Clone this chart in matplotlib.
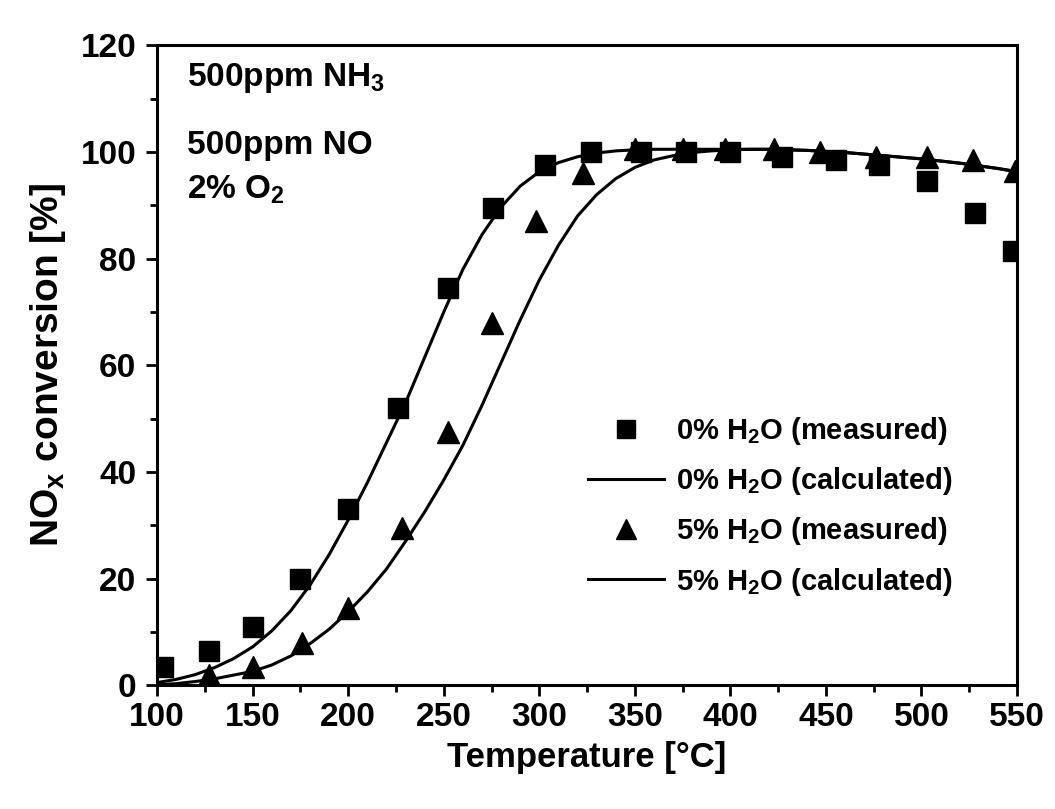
import matplotlib
matplotlib.use("Agg")
import matplotlib.pyplot as plt
from matplotlib.ticker import MultipleLocator
from matplotlib.lines import Line2D

plt.rcParams['font.family'] = ['Liberation Sans', 'DejaVu Sans']
plt.rcParams['font.weight'] = 'bold'
plt.rcParams['mathtext.fontset'] = 'custom'
plt.rcParams['mathtext.rm'] = 'Liberation Sans:bold'
plt.rcParams['mathtext.it'] = 'Liberation Sans:bold'
plt.rcParams['mathtext.bf'] = 'Liberation Sans:bold'
plt.rcParams['mathtext.sf'] = 'Liberation Sans:bold'
plt.rcParams['mathtext.default'] = 'rm'

# measured data
t_dry = [103, 127, 150, 175, 200, 226, 252, 276, 303, 327, 353, 377, 400, 427, 455, 478, 503, 528, 548]
x_dry = [3.5, 6.5, 11, 20, 33, 52, 74.5, 89.5, 97.5, 100, 100, 100, 100, 99, 98.5, 97.5, 94.5, 88.5, 81.5]

t_wet = [127, 150, 176, 200, 228, 252, 275, 298, 323, 350, 375, 397, 423, 447, 476, 503, 527, 549]
x_wet = [2, 3.5, 8, 14.5, 29.5, 47.5, 68, 87, 96, 100.5, 100.5, 100.5, 100.5, 100, 99, 99, 98.5, 96.5]

# calculated curves
t_calc = [100, 110, 120, 130, 140, 150, 160, 170, 180, 190, 200, 210, 220, 230, 240,
          250, 260, 270, 280, 290, 300, 310, 320, 330, 340, 350, 360, 370, 380, 390,
          400, 410, 420, 430, 440, 450, 460, 470, 480, 490, 500, 510, 520, 530, 540, 550]
calc_dry = [0.5, 1.1, 2.0, 3.3, 5.0, 7.2, 10.2, 14.0, 18.8, 24.5, 31.0, 38.0, 45.5, 53.0, 61.5,
            70.0, 78.0, 84.5, 89.7, 93.6, 96.3, 98.0, 99.1, 99.8, 100.2, 100.4, 100.5, 100.5, 100.5, 100.5,
            100.5, 100.5, 100.5, 100.4, 100.3, 100.1, 99.9, 99.6, 99.3, 99.0, 98.7, 98.3, 97.9, 97.4, 96.9, 96.3]
calc_wet = [0.1, 0.3, 0.7, 1.2, 1.9, 2.6, 3.8, 5.5, 7.8, 10.5, 13.8, 17.5, 21.8, 27.0, 32.5,
            38.5, 45.0, 52.5, 60.5, 68.5, 76.0, 82.5, 88.0, 92.0, 95.0, 97.1, 98.5, 99.3, 99.9, 100.2,
            100.4, 100.5, 100.5, 100.4, 100.3, 100.1, 99.9, 99.6, 99.3, 99.0, 98.7, 98.3, 97.9, 97.4, 96.9, 96.3]

x_ticks = [100, 150, 200, 250, 300, 350, 400, 450, 500, 550]
y_ticks = [0, 20, 40, 60, 80, 100, 120]

fig = plt.figure(figsize=(10.55, 8.09), dpi=100)
ax = fig.add_axes([0.149, 0.153, 0.815, 0.791])

ax.plot(t_calc, calc_dry, color='black', lw=2.2, zorder=2)
ax.plot(t_calc, calc_wet, color='black', lw=2.2, zorder=2)
ax.plot(t_dry, x_dry, linestyle='none', marker='s', ms=14, color='black', zorder=3)
ax.plot(t_wet, x_wet, linestyle='none', marker='^', ms=16, color='black', zorder=3)

ax.set_xlim(100, 550)
ax.set_ylim(0, 120)
ax.set_xticks(x_ticks)
ax.set_yticks(y_ticks)
ax.xaxis.set_minor_locator(MultipleLocator(25))
ax.yaxis.set_minor_locator(MultipleLocator(10))
ax.tick_params(which='major', direction='out', length=8, width=2, labelsize=24,
               top=False, right=False)
ax.tick_params(axis='x', which='major', pad=4)
ax.tick_params(axis='y', which='major', pad=7)
ax.tick_params(which='minor', direction='out', length=5, width=2, top=False, right=False)
for lab in ax.get_xticklabels() + ax.get_yticklabels():
    lab.set_fontweight('bold')
for s in ax.spines.values():
    s.set_linewidth(2.2)

ax.set_xlabel('Temperature [°C]', fontsize=25, fontweight='bold', labelpad=6)
ax.set_ylabel(r'NO$_{x}$ conversion [%]', fontsize=28, fontweight='bold', labelpad=9)

ax.text(0.035, 0.975, r'500ppm NH$_{3}$', transform=ax.transAxes, fontsize=24,
        fontweight='bold', va='top', ha='left')
ax.text(0.035, 0.867, '500ppm NO', transform=ax.transAxes, fontsize=24,
        fontweight='bold', va='top', ha='left')
ax.text(0.035, 0.80, r'2% O$_{2}$', transform=ax.transAxes, fontsize=24,
        fontweight='bold', va='top', ha='left')

handles = [
    Line2D([], [], linestyle='none', marker='s', ms=13, color='black'),
    Line2D([], [], color='black', lw=2.2),
    Line2D([], [], linestyle='none', marker='^', ms=15, color='black'),
    Line2D([], [], color='black', lw=2.2),
]
labels = [r'0% H$_{2}$O (measured)', r'0% H$_{2}$O (calculated)',
          r'5% H$_{2}$O (measured)', r'5% H$_{2}$O (calculated)']
leg = ax.legend(handles, labels, loc='upper left', bbox_to_anchor=(0.488, 0.44),
                frameon=False, fontsize=21, handlelength=2.6, handletextpad=0.4,
                labelspacing=0.62, borderaxespad=0)
for t in leg.get_texts():
    t.set_fontweight('bold')

fig.savefig('out.png', dpi=100)
